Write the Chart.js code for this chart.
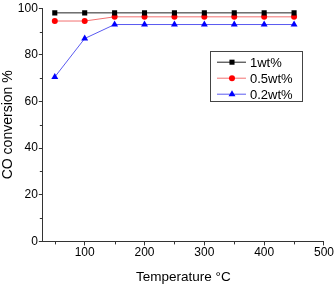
<!DOCTYPE html>
<html>
<head>
<meta charset="utf-8">
<script src="https://cdn.jsdelivr.net/npm/chart.js@4.4.1/dist/chart.umd.min.js"></script>
<style>
  html, body { margin: 0; padding: 0; background: #fff; }
  #wrap { width: 334px; height: 293px; }
</style>
</head>
<body>
<div id="wrap"><canvas id="chart"></canvas></div>
<script>
// values
const temps = [50, 100, 150, 200, 250, 300, 350, 400, 450];
const conv1wt = [98, 98, 98, 98, 98, 98, 98, 98, 98];
const conv05wt = [94.5, 94.5, 96.3, 96.3, 96.3, 96.3, 96.3, 96.3, 96.3];
const conv02wt = [70.5, 87, 93, 93, 93, 93, 93, 93, 93];
const seriesNames = ['1wt%', '0.5wt%', '0.2wt%'];
const xTicks = [100, 200, 300, 400, 500];
const xMinorTicks = [50, 150, 250, 350, 450];
const yTicks = [0, 20, 40, 60, 80, 100];
const yMinorTicks = [10, 30, 50, 70, 90];

const axisColor = '#333';
const font = { family: 'Liberation Sans, Arial, sans-serif', size: 12 };

function toPoints(ys) {
    return temps.map((t, i) => ({ x: t, y: ys[i] }));
}

// small ticks between the labelled ones
const minorTicks = {
    id: 'minorTicks',
    afterDraw(chart) {
        const ctx = chart.ctx;
        const xs = chart.scales.x, ys = chart.scales.y;
        ctx.save();
        ctx.strokeStyle = axisColor;
        ctx.lineWidth = 1;
        ctx.beginPath();
        xMinorTicks.forEach(v => {
            const px = Math.round(xs.getPixelForValue(v)) + 0.5;
            ctx.moveTo(px, xs.top);
            ctx.lineTo(px, xs.top + 3);
        });
        yMinorTicks.forEach(v => {
            const py = Math.round(ys.getPixelForValue(v)) + 0.5;
            ctx.moveTo(ys.right, py);
            ctx.lineTo(ys.right - 3, py);
        });
        ctx.stroke();
        ctx.restore();
    }
};

// boxed legend inside the plot, upper right
const boxLegend = {
    id: 'boxLegend',
    afterDraw(chart) {
        const ctx = chart.ctx;
        const area = chart.chartArea;
        const boxW = 92, boxH = 50, rowH = 16;
        const left = area.right - 22 - boxW;
        const top = area.top + 43;
        ctx.save();
        ctx.strokeStyle = '#444';
        ctx.lineWidth = 1;
        ctx.strokeRect(Math.round(left) + 0.5, Math.round(top) + 0.5, boxW, boxH);
        ctx.font = '13px Liberation Sans, Arial, sans-serif';
        ctx.textBaseline = 'middle';
        chart.data.datasets.forEach((ds, i) => {
            const y = top + 11 + i * rowH;
            ctx.strokeStyle = ds.borderColor;
            ctx.lineWidth = ds.borderWidth;
            ctx.beginPath();
            ctx.moveTo(left + 7, y);
            ctx.lineTo(left + 36, y);
            ctx.stroke();
            ctx.fillStyle = ds.pointBackgroundColor;
            Chart.helpers.drawPoint(ctx, {
                pointStyle: ds.pointStyle,
                radius: ds.pointRadius,
                borderWidth: 0
            }, left + 22, y);
            ctx.fillStyle = '#000';
            ctx.fillText(ds.label, left + 40, y + 1);
        });
        ctx.restore();
    }
};

new Chart(document.getElementById('chart'), {
    type: 'line',
    data: {
        datasets: [
            {
                label: seriesNames[0],
                data: toPoints(conv1wt),
                borderColor: '#222',
                borderWidth: 1,
                pointStyle: 'rect',
                pointRadius: 3.6,
                pointBackgroundColor: '#000',
                pointBorderWidth: 0
            },
            {
                label: seriesNames[1],
                data: toPoints(conv05wt),
                borderColor: '#f27070',
                borderWidth: 1,
                pointStyle: 'circle',
                pointRadius: 3,
                pointBackgroundColor: '#ff0000',
                pointBorderWidth: 0
            },
            {
                label: seriesNames[2],
                data: toPoints(conv02wt),
                borderColor: '#5a5af0',
                borderWidth: 1,
                pointStyle: 'triangle',
                pointRadius: 4,
                pointBackgroundColor: '#0000ff',
                pointBorderWidth: 0
            }
        ]
    },
    options: {
        responsive: true,
        maintainAspectRatio: false,
        animation: false,
        layout: { padding: { top: 7, right: 8, left: 0, bottom: 8 } },
        plugins: {
            legend: { display: false },
            tooltip: { enabled: false }
        },
        scales: {
            x: {
                type: 'linear',
                min: 30,
                max: 500,
                afterBuildTicks: s => { s.ticks = xTicks.map(v => ({ value: v })); },
                ticks: { color: '#000', font: font, padding: 0, maxRotation: 0 },
                grid: { drawOnChartArea: false, tickLength: 4, color: axisColor },
                border: { color: axisColor, width: 1 },
                title: {
                    display: true,
                    text: 'Temperature °C',
                    color: '#000',
                    font: { family: font.family, size: 13.5 },
                    padding: { top: 9, bottom: 0 }
                }
            },
            y: {
                min: 0,
                max: 100,
                afterBuildTicks: s => { s.ticks = yTicks.map(v => ({ value: v })); },
                ticks: { color: '#000', font: font, padding: 1 },
                grid: { drawOnChartArea: false, tickLength: 4, color: axisColor },
                border: { color: axisColor, width: 1 },
                title: {
                    display: true,
                    text: 'CO conversion %',
                    color: '#000',
                    font: { family: font.family, size: 14 },
                    padding: { top: 0, bottom: 0 }
                }
            }
        }
    },
    plugins: [minorTicks, boxLegend]
});
</script>
</body>
</html>
